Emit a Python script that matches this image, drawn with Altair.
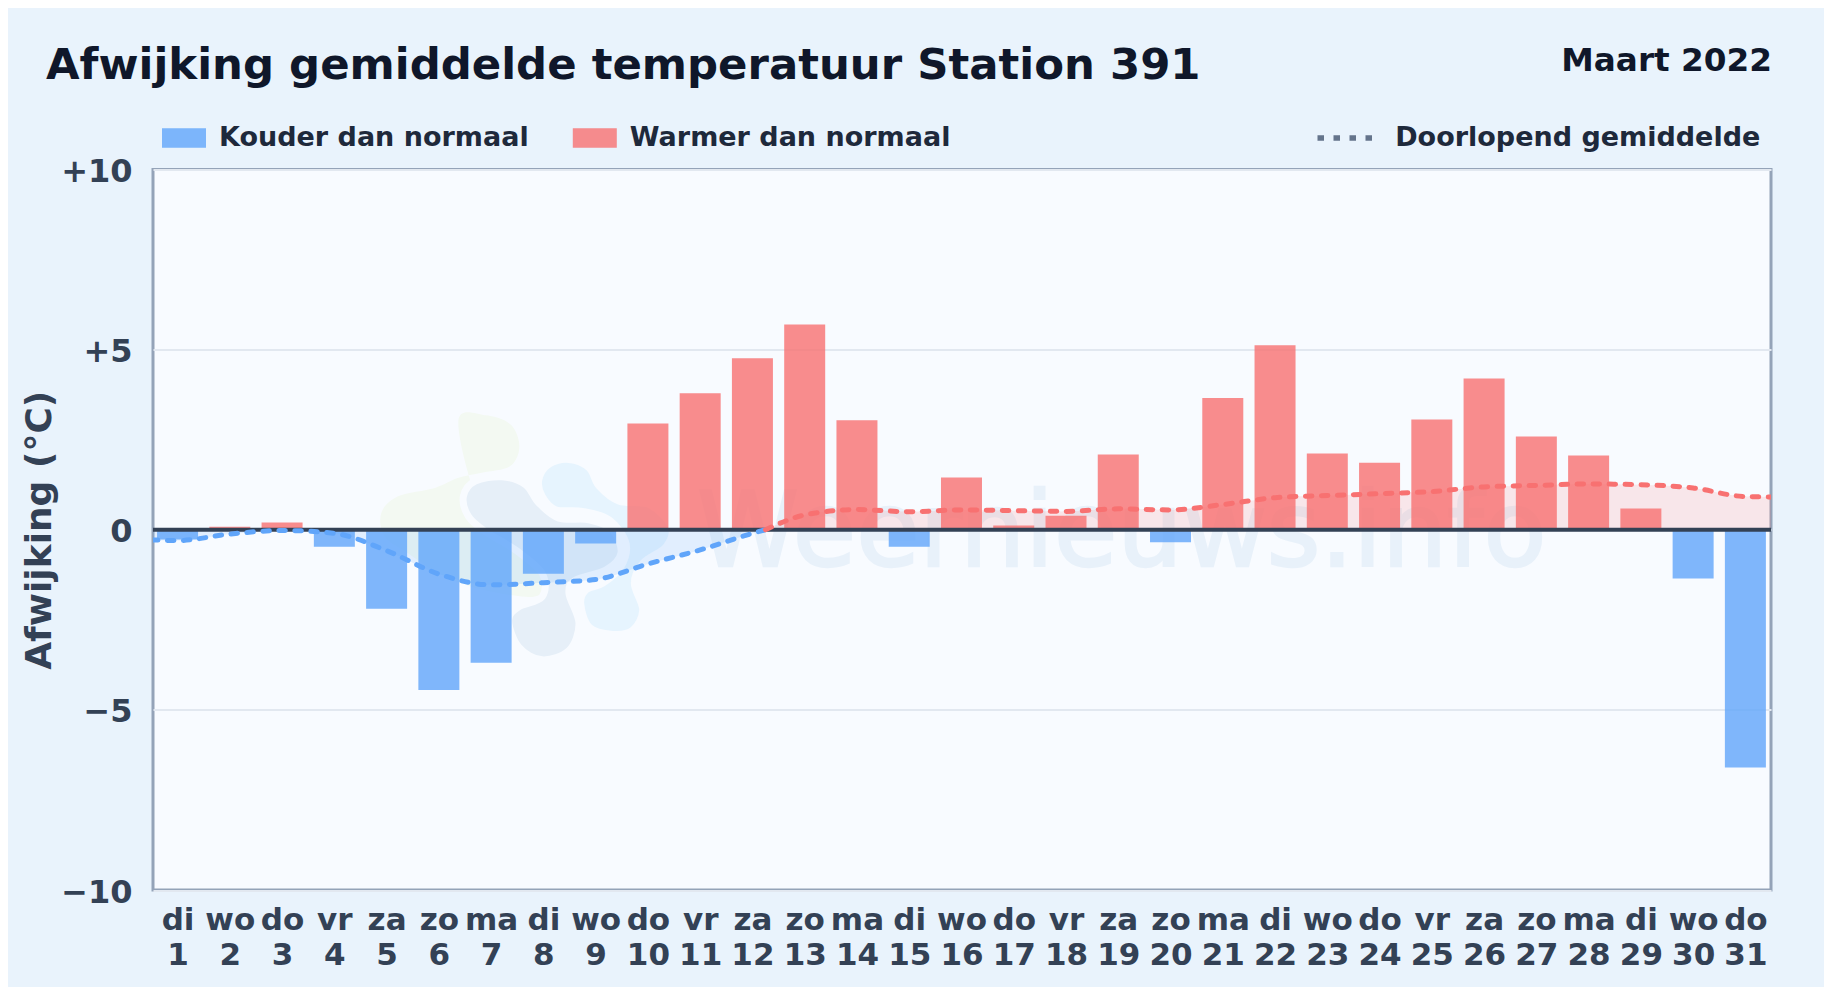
import altair as alt
import pandas as pd

FONT = "DejaVu Sans"
days = list(range(1, 32))
weekdays = ["di","wo","do","vr","za","zo","ma","di","wo","do","vr","za","zo","ma","di","wo","do","vr","za","zo","ma","di","wo","do","vr","za","zo","ma","di","wo","do"]
anomaly = [-0.27,0.08,0.2,-0.47,-2.19,-4.45,-3.69,-1.22,-0.38,2.95,3.79,4.76,5.7,3.04,-0.47,1.45,0.12,0.39,2.09,-0.35,3.66,5.12,2.12,1.86,3.06,4.2,2.59,2.06,0.59,-1.35,-6.6]
trend_x = [0.5,1,2,3,4,5,6,7,8,9,10,11,12,12.25,13,14,15,16,17,18,19,20,21,22,23,24,25,26,27,28,29,30,31,31.5]
trend_y = [-0.28,-0.3,-0.12,-0.02,-0.1,-0.58,-1.23,-1.53,-1.47,-1.38,-0.95,-0.56,-0.1,0,0.41,0.56,0.5,0.55,0.53,0.51,0.58,0.55,0.7,0.89,0.95,1.0,1.06,1.19,1.23,1.27,1.25,1.16,0.92,0.91]
COLD, WARM = "Kouder dan normaal", "Warmer dan normaal"
TREND = "Doorlopend gemiddelde"

BG, PLOT = "#e9f3fc", "#f8fbff"
INK, LABEL = "#0f172a", "#334155"

bars_df = pd.DataFrame({"day": days, "value": anomaly, "kind": [COLD if v < 0 else WARM for v in anomaly]})
trend_df = pd.DataFrame({"day": trend_x, "mean": trend_y, "series": TREND})
neg_df = trend_df[trend_df["day"] <= 12.25]
pos_df = trend_df[trend_df["day"] >= 12.25]

def smooth_path(pts, cx=450, cy=400, k=450):
    u = [((x - cx) / k, (y - cy) / k) for x, y in pts]
    n = len(u)
    d = f"M{u[0][0]:.4f},{u[0][1]:.4f}"
    for i in range(n):
        p0, p1, p2, p3 = u[i - 1], u[i], u[(i + 1) % n], u[(i + 2) % n]
        c1 = (p1[0] + (p2[0] - p0[0]) / 6, p1[1] + (p2[1] - p0[1]) / 6)
        c2 = (p2[0] - (p3[0] - p1[0]) / 6, p2[1] - (p3[1] - p1[1]) / 6)
        d += f"C{c1[0]:.4f},{c1[1]:.4f},{c2[0]:.4f},{c2[1]:.4f},{p2[0]:.4f},{p2[1]:.4f}"
    return d + "Z"

green_blob = [(290,55),(370,38),(445,65),(472,130),(445,190),(360,210),(290,225),(220,255),(110,280),(60,330),(70,400),(140,450),(230,510),(330,550),(450,575),(530,575),(560,520),(450,400),(350,300)]
grey_blob = [(305,280),(340,235),(420,222),(490,245),(530,300),(590,345),(680,350),(750,380),(775,450),(730,500),(640,530),(620,570),(650,660),(620,740),(540,768),(470,730),(440,650),(470,610),(540,580),(540,510),(460,440),(370,385),(320,340)]
blue_blob = [(530,230),(560,185),(620,170),(680,195),(710,250),(770,295),(860,305),(925,370),(910,430),(840,480),(815,540),(840,620),(810,680),(750,692),(680,670),(655,600),(670,560),(720,540),(775,490),(790,420),(740,350),(660,325),(580,320),(540,280)]

def blob(pts, fill, halo=False):
    kw = dict(stroke=PLOT, strokeWidth=7, strokeOpacity=1) if halo else dict(strokeWidth=0)
    return alt.Chart(bars_df.head(1)).mark_point(shape=smooth_path(pts), filled=True, fill=fill, opacity=1, size=91000, **kw).encode(
        x=alt.value(359), y=alt.value(367))

x_scale = alt.Scale(domain=[0.53, 31.49], nice=False, zero=False, padding=0)
y_scale = alt.Scale(domain=[-10, 10], nice=False)
wd_expr = "[" + ",".join(f"'{w}'" for w in weekdays) + "]"

x_axis = alt.Axis(values=days, title=None, grid=False, ticks=False, domain=False, labelAngle=0,
                  labelExpr=f"[{wd_expr}[datum.value-1], '' + datum.value]",
                  labelFont=FONT, labelFontSize=31, labelFontWeight="bold", labelColor=LABEL,
                  labelOverlap=False, labelBound=False, labelFlush=False, labelLineHeight=35, labelPadding=15)
y_axis = alt.Axis(values=[-10,-5,0,5,10], title="Afwijking (°C)", grid=True, gridColor="#e2e8f0", gridWidth=2,
                  ticks=False, domain=False,
                  labelExpr="datum.value > 0 ? '+' + datum.value : replace('' + datum.value, '-', '\u2212')",
                  labelFont=FONT, labelFontSize=32, labelFontWeight="bold", labelColor=LABEL, labelPadding=21, labelOffset=2,
                  titleFont=FONT, titleFontSize=36, titleFontWeight="bold", titleColor=LABEL, titlePadding=2.5)

water = alt.Chart(bars_df.head(1)).mark_text(text="Weernieuws.info", font=FONT, fontSize=103, stroke="#e8f1fa", strokeWidth=2.5,
                                             color="#e8f1fa", align="left", baseline="alphabetic").encode(x=alt.value(544), y=alt.value(396))

base_bars = alt.Chart(bars_df).mark_bar(width=41, opacity=0.8, orient="vertical").encode(
    x=alt.X("day:Q", scale=x_scale, axis=x_axis),
    y=alt.Y("value:Q", scale=y_scale, axis=y_axis),
    y2=alt.datum(0),
    color=alt.Color("kind:N", scale=alt.Scale(domain=[COLD, WARM], range=["#60a5fa", "#f87171"]),
                    legend=alt.Legend(orient="none", legendX=9, legendY=-53.5, direction="horizontal", title=None,
                                      symbolType="M-1,-0.44H1V0.44H-1Z", symbolSize=1936, symbolOpacity=0.8, symbolStrokeWidth=0,
                                      labelFont=FONT, labelFontSize=27, labelFontWeight="bold", labelColor="#1e293b", labelLimit=600,
                                      columnPadding=43.8, labelOffset=13)),
)

def area(df, color):
    return alt.Chart(df).mark_area(color=color, opacity=0.15, interpolate="monotone", clip=True).encode(
        x=alt.X("day:Q", scale=x_scale), y=alt.Y("mean:Q", scale=y_scale), y2=alt.datum(0))

dash = alt.StrokeDash("series:N", scale=alt.Scale(domain=[TREND], range=[[6.5, 9.5]]),
                      legend=alt.Legend(orient="none", legendX=1161.5, legendY=-62, title=None,
                                        symbolType="stroke", symbolSize=3025, symbolStrokeColor="#64748b", symbolStrokeWidth=5.5,
                                        symbolOpacity=1, labelLimit=600,
                                        labelFont=FONT, labelFontSize=27, labelFontWeight="bold", labelColor="#1e293b", labelOffset=19.7))

def line(df, color):
    return alt.Chart(df).mark_line(color=color, strokeWidth=5, strokeCap="round", interpolate="monotone", clip=True).encode(
        x=alt.X("day:Q", scale=x_scale), y=alt.Y("mean:Q", scale=y_scale), strokeDash=dash)

zero = alt.Chart(bars_df.head(1)).mark_rule(color=LABEL, strokeWidth=4).encode(y=alt.datum(0))
month = alt.Chart(bars_df.head(1)).mark_text(text="Maart 2022", font=FONT, fontSize=32.7, fontWeight="bold", color=INK,
                                             align="right", baseline="alphabetic").encode(x=alt.value(1619), y=alt.value(-98.5))

chart = alt.layer(
    blob(green_blob, "#f3f9f2"), blob(grey_blob, "#e6eff8", True), blob(blue_blob, "#e6f4fe", True), water,
    area(neg_df, "#60a5fa"), area(pos_df, "#f87171"),
    base_bars, zero, line(neg_df, "#60a5fa"), line(pos_df, "#f87171"), month,
).properties(
    width=1618, height=720.5,
    padding={"left": 145, "top": 161.5, "right": 53, "bottom": 97},
    autosize=alt.AutoSizeParams(type="none"),
    background=BG,
    title=alt.Title("Afwijking gemiddelde temperatuur Station 391", anchor="start", frame="group", dx=-107, dy=53.7, offset=10,
                    font=FONT, fontSize=43.4, fontWeight="bold", color=INK),
).configure_view(fill=PLOT, stroke="#94a3b8", strokeWidth=3)

chart.save("out.html", embed_options={"renderer": "svg", "actions": False})
